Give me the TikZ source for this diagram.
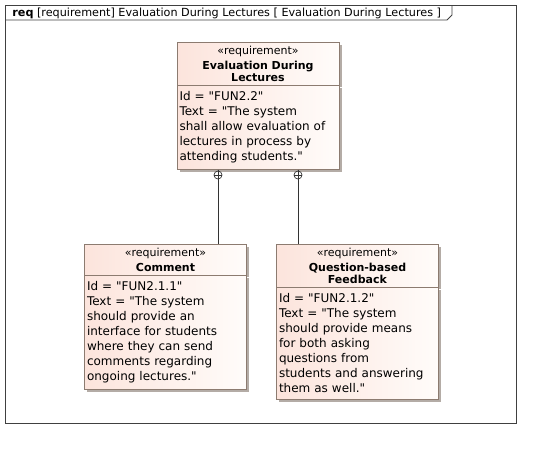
\documentclass[tikz,border=0pt]{standalone}
\usepackage{fontspec}
\setmainfont{DejaVu Sans}[Ligatures=TeXOff]
\usetikzlibrary{positioning,shadows}

\definecolor{reqPink}{HTML}{FCE4DC}
\definecolor{reqWhite}{HTML}{FFFCFA}
\definecolor{reqLine}{HTML}{8C7B70}
\definecolor{reqShadow}{HTML}{B4ACA6}
\definecolor{frameLine}{HTML}{404040}

\begin{document}
\begin{tikzpicture}
        [x = 1pt, y = 1pt, line width = 0.8pt, font = \fontsize{12}{15}\selectfont,
        reqhead/.style = {rectangle, draw=reqLine, left color=reqPink, right color=reqWhite,
                drop shadow={shadow xshift=2.5pt, shadow yshift=-2.5pt, fill=reqShadow, opacity=1},
                text width=156pt, inner xsep=3pt, inner ysep=3.5pt, align=center,
                font=\fontsize{11}{12}\selectfont},
        reqbody/.style = {rectangle, draw=reqLine, left color=reqPink, right color=reqWhite,
                drop shadow={shadow xshift=2.5pt, shadow yshift=-2.5pt, fill=reqShadow, opacity=1},
                text width=157pt, inner xsep=2.5pt, inner ysep=6pt, align=left},
        contain/.style = {draw=black!80, line width=0.7pt}]

        \useasboundingbox (0,0) rectangle (541,-448);

        %% diagram frame
        \draw[frameLine] (5,-5) rectangle (516,-423);
        \draw[frameLine] (5,-20) -- (447,-20) -- (452,-15) -- (452,-5);
        \node[anchor=base west, inner sep=0pt, font=\fontsize{11.2}{12}\selectfont] (title) at (12,-16.5)
                {\textbf{req} [requirement] Evaluation During Lectures [ Evaluation During Lectures ]};

        %% place requirements on canvas
        \node[reqhead, anchor=north] (evalHead) at (258,-42)
                {«requirement»\\[3pt]\textbf{Evaluation During\\Lectures}};
        \node[reqbody, below = 0pt of evalHead] (evalBody)
                {Id = "FUN2.2"\\Text = "The system\\shall allow evaluation of\\lectures in process by\\attending students."};

        \node[reqhead, anchor=north] (commentHead) at (165.5,-244)
                {«requirement»\\[3pt]\textbf{Comment}};
        \node[reqbody, below = 0pt of commentHead] (commentBody)
                {Id = "FUN2.1.1"\\Text = "The system\\should provide an\\interface for students\\where they can send\\comments regarding\\ongoing lectures."};

        \node[reqhead, anchor=north] (questionHead) at (357.5,-244)
                {«requirement»\\[3pt]\textbf{Question-based\\Feedback}};
        \node[reqbody, below = 0pt of questionHead] (questionBody)
                {Id = "FUN2.1.2"\\Text = "The system\\should provide means\\for both asking\\questions from\\students and answering\\them as well."};

        %% connect requirements (containment)
        \coordinate (commentJoin) at (218,-175);
        \coordinate (questionJoin) at (298,-175);
        \foreach \join/\child in {commentJoin/commentHead, questionJoin/questionHead} {
                \draw[contain] (\join) circle (4);
                \draw[contain] ([xshift=-4pt]\join) -- ([xshift=4pt]\join);
                \draw[contain] (\join |- evalBody.south) -- (\join |- \child.north);
        }
\end{tikzpicture}
\end{document}
